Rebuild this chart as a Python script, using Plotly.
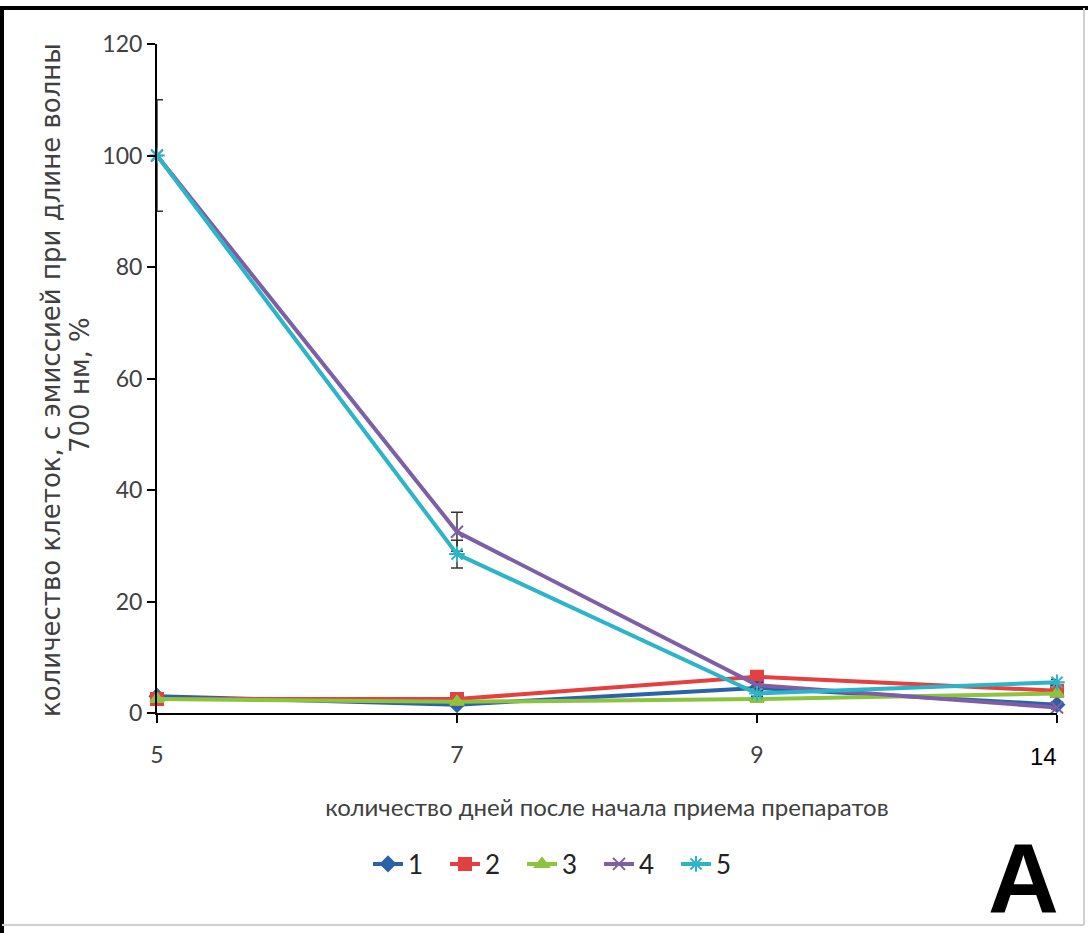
import plotly.graph_objects as go

# Days after treatment start (category axis)
days = ["5", "7", "9", "14"]

# Share of cells emitting at 700 nm, % (groups 1-5)
group_1 = [3.0, 1.5, 4.5, 1.5]
group_2 = [2.5, 2.5, 6.5, 4.0]
group_3 = [2.5, 2.0, 2.5, 3.5]
group_4 = [100.0, 32.5, 5.0, 1.0]
group_5 = [100.0, 28.5, 3.5, 5.5]

# Standard deviations
err_4 = [10.0, 3.5, 0.5, 0.3]
err_5 = [0.0, 2.5, 0.5, 0.5]

series = [
    ("1", group_1, None, "#2a63a8", "diamond", 11),
    ("2", group_2, None, "#e3413f", "square", 12),
    ("3", group_3, None, "#8cc43f", "triangle-up", 12),
    ("4", group_4, err_4, "#7e5fa6", "x-thin-open", 12),
    ("5", group_5, err_5, "#2cb4c8", "asterisk-open", 13),
]

W, H = 1088, 933
L, R, T, B = 157, 31, 44, 220
PW, PH = W - L - R, H - T - B


def px_x(x):
    return (x - L) / PW


def px_y(y):
    return (H - y - B) / PH


fig = go.Figure()
for name, vals, err, color, symbol, size in series:
    fig.add_trace(go.Scatter(
        x=days, y=vals, name=name, mode="lines+markers",
        line=dict(color=color, width=4),
        marker=dict(symbol=symbol, size=size, color=color,
                    line=dict(color=color, width=2)),
        error_y=(dict(type="data", array=err, visible=True,
                      color="#333333", thickness=1.5, width=6)
                 if err else None),
        cliponaxis=False,
    ))

label_family = "Lato, Carlito, Calibri, sans-serif"
tick_font = dict(family=label_family, size=23, color="#404040")

fig.update_layout(
    width=W, height=H,
    margin=dict(l=L, r=R, t=T, b=B),
    paper_bgcolor="white", plot_bgcolor="white",
    showlegend=True,
    legend=dict(orientation="h", x=px_x(368), xanchor="left",
                y=px_y(864), yanchor="middle",
                font=dict(family=label_family, size=26, color="#222222"),
                entrywidth=32, tracegroupgap=0),
    xaxis=dict(
        type="category", range=[0, 3],
        showline=True, linecolor="black", linewidth=2,
        ticks="outside", ticklen=8, tickcolor="black", tickwidth=2,
        ticklabelstandoff=12,
        showgrid=False, zeroline=False,
        tickmode="array", tickvals=days, ticktext=["5", "7", "9", ""],
        tickfont=tick_font,
        title=dict(text="количество дней после начала приема препаратов",
                   font=dict(family=label_family, size=24, color="#404040"),
                   standoff=33),
    ),
    yaxis=dict(
        range=[0, 120], dtick=20,
        showline=True, linecolor="black", linewidth=2,
        ticks="outside", ticklen=8, tickcolor="black", tickwidth=2,
        showgrid=False, zeroline=False,
        tickfont=tick_font,
    ),
)

# Two-line vertical y-axis title
title_font = dict(family="DejaVu Sans, sans-serif", size=26, color="#404040")
fig.add_annotation(x=px_x(51), y=px_y(380), xref="paper", yref="paper",
                   text="количество клеток, с эмиссией при длине волны",
                   textangle=-90, showarrow=False,
                   xanchor="center", yanchor="middle", font=title_font)
fig.add_annotation(x=px_x(80), y=px_y(385), xref="paper", yref="paper",
                   text="700 нм, %", textangle=-90, showarrow=False,
                   xanchor="center", yanchor="middle", font=title_font)

# Last day label and panel letter
fig.add_annotation(x=px_x(1043), y=px_y(757), xref="paper", yref="paper",
                   text="14", showarrow=False,
                   xanchor="center", yanchor="middle",
                   font=dict(family="Liberation Sans, Arial, sans-serif",
                             size=24, color="black"))
fig.add_annotation(x=px_x(1023), y=px_y(878), xref="paper", yref="paper",
                   text="<b>A</b>", showarrow=False,
                   xanchor="center", yanchor="middle",
                   font=dict(family="Liberation Sans, Arial, sans-serif",
                             size=98, color="black"))

# Frame around the panel
frame = [
    (0, 8, W, 8, "black", 4),
    (2, 8, 2, H, "black", 4),
    (1084, 8, 1084, 925, "#d0d0d0", 2),
    (2, 925, 1084, 925, "#d0d0d0", 2),
]
for x0, y0, x1, y1, color, width in frame:
    fig.add_shape(type="line", xref="paper", yref="paper",
                  x0=px_x(x0), x1=px_x(x1), y0=px_y(y0), y1=px_y(y1),
                  line=dict(color=color, width=width))

fig.write_html("out.html")
